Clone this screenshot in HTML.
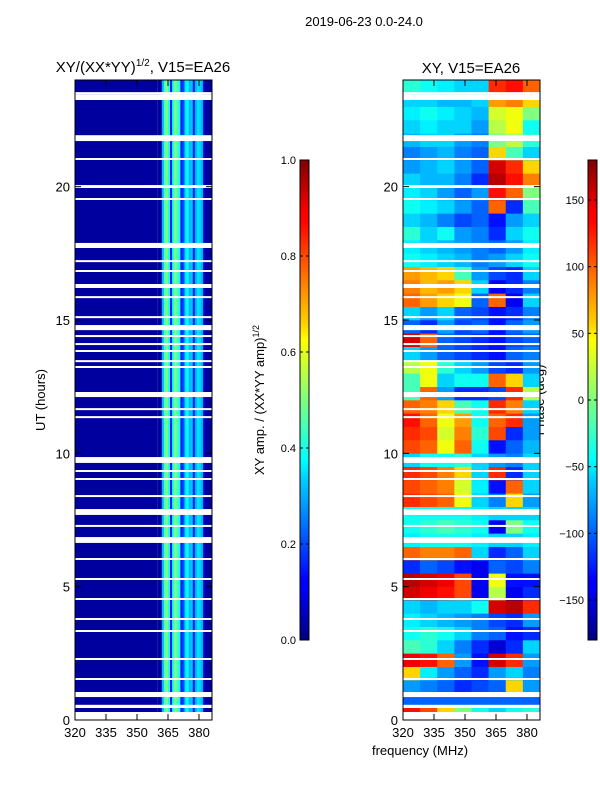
<!DOCTYPE html>
<html><head><meta charset="utf-8"><style>
body{margin:0;background:#fff;font-family:"Liberation Sans",sans-serif}
svg text{font-family:"Liberation Sans",sans-serif;fill:#000}
</style></head><body>
<svg id="c" width="600" height="800" xmlns="http://www.w3.org/2000/svg">
<defs>
<linearGradient id="jet" x1="0" y1="1" x2="0" y2="0">
<stop offset="0" stop-color="#00007f"/><stop offset="0.11" stop-color="#0000ff"/><stop offset="0.125" stop-color="#0000ff"/>
<stop offset="0.34" stop-color="#00d4ff"/><stop offset="0.375" stop-color="#0ff"/><stop offset="0.5" stop-color="#7fff7f"/>
<stop offset="0.625" stop-color="#ff0"/><stop offset="0.66" stop-color="#ffd000"/><stop offset="0.875" stop-color="#f00"/><stop offset="0.89" stop-color="#f00"/><stop offset="1" stop-color="#7f0000"/>
</linearGradient>
</defs>
<text x="364" y="26" font-size="13" text-anchor="middle">2019-06-23 0.0-24.0</text>
<text x="143" y="72" font-size="15" text-anchor="middle">XY/(XX*YY)<tspan font-size="10" dy="-6">1/2</tspan><tspan dy="6">, V15=EA26</tspan></text>
<text x="471" y="73" font-size="15" text-anchor="middle">XY, V15=EA26</text>
<text transform="translate(45,400) rotate(-90)" font-size="13" text-anchor="middle">UT (hours)</text>
<text x="420" y="755" font-size="13" text-anchor="middle">frequency (MHz)</text>
<text transform="translate(264,400) rotate(-90)" font-size="13" text-anchor="middle">XY amp. / (XX*YY amp)<tspan font-size="9" dy="-5">1/2</tspan></text>
<text transform="translate(544,400) rotate(-90)" font-size="13" text-anchor="middle">Phase (deg)</text>
<g id="left"></g><g id="right"></g><g id="cbs"></g>
</svg>
<script>
const ampFreqs=[360,362,363,364,365,366,367,368,369,370,371,372,373,374,375,376,377,378,379,380,381,382,383,386];
const ampVals=[0.03,0.3,0.45,0.5,0.4,0.15,0.4,0.5,0.45,0.4,0.15,0.2,0.35,0.38,0.3,0.32,0.15,0.3,0.35,0.33,0.3,0.08,0.03];
const phaseRows=[
[130,110,60,0,-40,-60,-40,-30],[-100,-100,-100,-100,-100,-100,-100,-100],[-80,-90,-100,-120,-110,-100,60,-80],[60,-50,-80,-100,-120,-80,-60,-90],
[140,130,100,-80,-130,150,120,-80],[-20,-30,-60,-90,-120,-150,-120,-60],[-40,-30,-40,-60,-90,-100,-130,-120],[-50,-60,-70,-80,-90,-110,-120,-80],
[-60,-70,-60,-60,-40,150,160,120],[150,140,130,110,-140,20,-140,-120],[160,150,140,110,-140,40,-130,-130],[-120,-100,-110,-130,-140,-100,-110,-90],
[100,90,90,100,-60,-120,-100,-60],[-50,-40,-40,-40,-50,-60,-60,-50],[-40,-30,-20,-30,-40,-140,0,-40],[-40,-40,-40,-40,-50,-60,-60,-60],
[120,110,100,40,-60,-90,60,-80],[110,100,90,30,-50,-130,100,-60],[120,110,90,60,-60,120,-120,-60],[-60,-40,-40,-30,-60,-80,-90,-60],
[110,100,40,100,-40,-130,-100,-70],[120,110,30,90,-30,110,-120,-80],[130,100,40,80,-40,100,120,-80],[100,90,60,-20,-40,120,90,-60],
[-20,100,-80,-120,-120,-110,120,20],[-20,40,-60,-40,-40,100,60,-60],[20,40,-30,-60,-80,-110,-120,-80],[-60,-80,-100,-110,-120,-130,-100,-90],
[150,100,-100,-110,-120,-130,-110,-100],[-100,-120,-80,-110,-100,-130,-100,-80],[-60,-80,-60,-100,-110,-130,-120,-90],[100,80,60,40,-100,100,-140,-60],
[90,70,80,60,-60,-140,-120,-90],[80,70,60,-20,-80,-110,-120,-60],[-40,-50,-60,-70,-90,-80,-60,-40],[-50,-60,-70,-80,-90,-100,-80,-50],
[-30,-60,-40,-80,-90,-120,-60,-40],[-60,-70,-90,-110,-100,-130,-80,-60],[-40,-50,-60,-80,-100,100,-120,-20],[-50,-60,-80,-100,-80,130,100,0],
[-60,-70,-70,-90,-120,160,130,90],[-80,-70,-60,-80,-100,150,120,60],[-90,-80,-70,-90,-100,60,-20,-60],[-70,-60,-60,-80,-90,0,20,-30],
[-60,-50,-60,-60,-80,20,40,-40],[-50,-40,-50,-60,-70,30,40,0],[-60,-60,-70,-70,-60,80,90,60],[-30,-40,-50,-60,-60,120,130,100]];
const gapTimes=[0,0.45,0.86,1.5,2.25,3.3,3.75,4.5,5.25,6.0,6.64,7.24,7.69,8.36,9.0,9.3,9.64,11.32,11.62,12.11,13.2,13.42,13.8,14.06,14.36,14.62,15.07,15.82,16.2,16.8,17.17,17.7,19.5,19.95,21.0,21.71,23.25,23.47];
const gapDurs=[0.3,0.12,0.19,0.075,0.075,0.075,0.075,0.075,0.075,0.075,0.22,0.075,0.22,0.075,0.075,0.075,0.22,0.075,0.075,0.19,0.075,0.075,0.075,0.075,0.075,0.19,0.075,0.075,0.15,0.075,0.075,0.19,0.075,0.11,0.075,0.22,0.22,0.075];
const xTicks=[320,335,350,365,380];
const yTicks=[0,5,10,15,20];
const ampTicks=[0.0,0.2,0.4,0.6,0.8,1.0];
const phaseTicks=[-150,-100,-50,0,50,100,150];

const NS='http://www.w3.org/2000/svg';
const F0=320,F1=386.3,T0=0,T1=24,AY0=720,AY1=80;
function jet(v){v=Math.max(0,Math.min(1,v));
 const r=Math.min(4*v-1.5,-4*v+4.5),g=Math.min(4*v-0.5,-4*v+3.5),b=Math.min(4*v+0.5,-4*v+2.5);
 const c=x=>Math.round(255*Math.max(0,Math.min(1,x)));return `rgb(${c(r)},${c(g)},${c(b)})`;}
function mk(tag,a,p){const e=document.createElementNS(NS,tag);for(const k in a)e.setAttribute(k,a[k]);p.appendChild(e);return e;}
function yS(t){return AY0-(t-T0)/(T1-T0)*(AY0-AY1);}
function panel(gid,x0,x1){
 const g=document.getElementById(gid);const xS=f=>x0+(f-F0)/(F1-F0)*(x1-x0);
 return {g,xS};}
(function(){
 const {g,xS}=panel('left',75,212);
 const bg=mk('rect',{x:75,y:80,width:xS(ampFreqs[0])-75,height:640,fill:jet(0.03)},g);
 
 for(let i=0;i<ampVals.length;i++){
  const r=mk('rect',{x:xS(ampFreqs[i]),y:80,width:xS(ampFreqs[i+1])-xS(ampFreqs[i])+0.3,height:640,fill:jet(ampVals[i])},g);
  }
 axes(g,75,212,xS);
})();
(function(){
 const {g,xS}=panel('right',403,540);
 const nc=phaseRows[0].length,nr=phaseRows.length;
 for(let i=0;i<nr;i++)for(let j=0;j<nc;j++){
  const fa=F0+j*(F1-F0)/nc,fb=F0+(j+1)*(F1-F0)/nc,ta=i*24/nr,tb=(i+1)*24/nr;
  const r=mk('rect',{x:xS(fa),y:yS(tb),width:xS(fb)-xS(fa)+0.3,height:yS(ta)-yS(tb)+0.3,fill:jet((phaseRows[i][j]+180)/360)},g);
  }
 axes(g,403,540,xS);
})();
function axes(g,x0,x1,xS){
 for(let i=0;i<gapTimes.length;i++){
  const r=mk('rect',{x:x0,y:yS(gapTimes[i]+gapDurs[i]),width:x1-x0,height:yS(gapTimes[i])-yS(gapTimes[i]+gapDurs[i]),fill:'#fff'},g);
  }
 const fr=mk('rect',{x:x0,y:80,width:x1-x0,height:640,fill:'none',stroke:'#000','stroke-width':1},g);
 
 xTicks.forEach(v=>{const x=xS(v);
  mk('line',{x1:x,x2:x,y1:720,y2:714,stroke:'#000'},g);mk('line',{x1:x,x2:x,y1:80,y2:86,stroke:'#000'},g);
  const t=mk('text',{x:x,y:737,'font-size':13,'text-anchor':'middle'},g);t.textContent=v;
  });
 yTicks.forEach(v=>{const y=yS(v);
  mk('line',{x1:x0,x2:x0+6,y1:y,y2:y,stroke:'#000'},g);mk('line',{x1:x1,x2:x1-6,y1:y,y2:y,stroke:'#000'},g);
  const t=mk('text',{x:x0-5,y:y+5,'font-size':13,'text-anchor':'end'},g);t.textContent=v;
  });
}
(function(){
 const g=document.getElementById('cbs');
 function cb(x,ticks,vmin,vmax,name,fmt){
  const r=mk('rect',{x:x,y:160,width:9,height:480,fill:'url(#jet)',stroke:'#000','stroke-width':1},g);
  
  ticks.forEach(v=>{const y=640-(v-vmin)/(vmax-vmin)*480;
   mk('line',{x1:x,x2:x+3,y1:y,y2:y,stroke:'#000'},g);mk('line',{x1:x+9,x2:x+6,y1:y,y2:y,stroke:'#000'},g);
   const t=mk('text',{x:x-4,y:y+4,'font-size':11,'text-anchor':'end'},g);t.textContent=fmt(v);
   });
 }
 cb(300,ampTicks,0,1,'amp-colorbar',v=>v.toFixed(1));
 cb(588,phaseTicks,-180,180,'phase-colorbar',v=>v<0?'\u2212'+(-v):String(v));
})();
</script>
</body></html>
